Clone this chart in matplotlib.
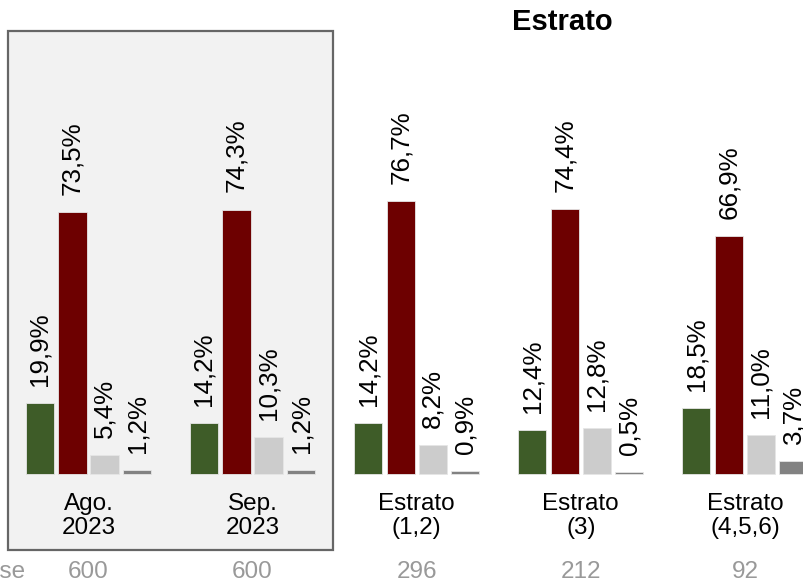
import matplotlib
matplotlib.use("Agg")
import matplotlib.pyplot as plt
from matplotlib.patches import Rectangle

plt.rcParams['font.family'] = ['Liberation Sans', 'DejaVu Sans']

categories = ["Ago.\n2023", "Sep.\n2023", "Estrato\n(1,2)", "Estrato\n(3)", "Estrato\n(4,5,6)"]
bases = ["600", "600", "296", "212", "92"]
serie1 = [19.9, 14.2, 14.2, 12.4, 18.5]
serie2 = [73.5, 74.3, 76.7, 74.4, 66.9]
serie3 = [5.4, 10.3, 8.2, 12.8, 11.0]
serie4 = [1.2, 1.2, 0.9, 0.5, 3.7]
title = "Estrato"

colors = ["#3e5c28", "#6d0000", "#cccccc", "#828282"]
series = [serie1, serie2, serie3, serie4]

fig = plt.figure(figsize=(8.04, 5.83), dpi=100)
ax = fig.add_axes([0, 0, 1, 1])
ax.set_xlim(-0.539, 4.360)
ax.set_ylim(-30.6, 133.15)
ax.axis('off')

# highlight box around the first two groups
ax.add_patch(Rectangle((-0.4905, -21.3), 1.98, 145.7, facecolor="#f2f2f2",
                       edgecolor="#666666", linewidth=1.6, zorder=0, clip_on=False))

offsets = [-0.296, -0.0975, 0.0975, 0.296]
width = 0.172
for s, vals in enumerate(series):
    xs = [i + offsets[s] for i in range(len(categories))]
    ax.bar(xs, vals, width=width, color=colors[s], edgecolor="#e6e6e6",
           linewidth=0.6, zorder=2)
    for x, v in zip(xs, vals):
        ax.text(x, v + 4.8, f"{v:.1f}%".replace(".", ","), rotation=90,
                ha='center', va='bottom', fontsize=18.7, color="black", zorder=3,
                clip_on=False)

for i, (c, b) in enumerate(zip(categories, bases)):
    ax.text(i, -11.7, c, ha='center', va='center', fontsize=17.5,
            linespacing=1.12, multialignment='center')
    ax.text(i, -27.6, b, ha='center', va='center', fontsize=17.5, color="#999999")

ax.text(-0.385, -27.6, "Base", ha='right', va='center', fontsize=17.5, color="#999999")
ax.text(2.89, 127.0, title, ha='center', va='center', fontsize=21, fontweight='bold')

fig.savefig("out.png", dpi=100)
